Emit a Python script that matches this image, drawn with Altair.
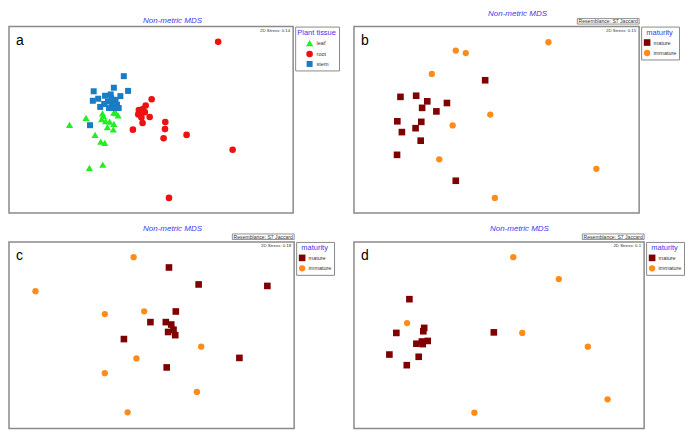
import altair as alt
import pandas as pd

FONT = "Liberation Sans"
TITLE_BLUE = "#3a3af0"

# ---------------- Panel a: plant tissue ----------------
a_leaf_x = [21.3, 27.1, 32.9, 36.9, 38.4, 32.6, 34.0, 35.4, 36.9, 34.6, 36.7, 30.3, 32.3, 33.7, 28.3, 33.0, 37.6, 33.2]
a_leaf_y = [47.3, 51.0, 53.5, 53.8, 52.4, 50.4, 49.3, 49.0, 47.8, 46.0, 44.8, 41.9, 38.3, 37.6, 24.2, 25.9, 53.6, 52.1]
a_root_x = [73.6, 50.2, 48.1, 45.7, 46.6, 45.5, 47.8, 49.5, 46.6, 47.0, 43.6, 55.0, 54.9, 54.4, 62.5, 78.7, 56.3, 47.1]
a_root_y = [91.8, 61.0, 57.7, 55.2, 53.8, 52.9, 54.1, 51.5, 51.2, 48.3, 44.7, 48.8, 45.0, 40.1, 41.9, 33.9, 8.1, 55.7]
a_stem_x = [40.4, 29.8, 36.9, 41.9, 31.4, 33.8, 35.8, 39.2, 29.5, 32.1, 34.8, 36.3, 37.5, 38.0, 35.2, 36.9, 38.6, 28.5, 33.5, 36.0]
a_stem_y = [73.4, 65.3, 67.2, 65.5, 61.3, 62.9, 63.6, 62.7, 60.2, 56.9, 59.8, 58.9, 60.7, 58.1, 56.3, 56.3, 56.3, 47.1, 58.5, 61.5]

# ---------------- Panel b: maturity ----------------
b_mature_x = [46.0, 16.3, 21.8, 25.7, 23.9, 32.6, 28.9, 15.2, 23.6, 21.6, 16.8, 23.4, 15.1, 35.7]
b_mature_y = [71.2, 62.3, 62.9, 59.9, 56.4, 59.0, 54.5, 49.2, 48.9, 45.5, 43.4, 38.8, 31.2, 17.3]
b_immature_x = [68.2, 35.7, 39.2, 27.3, 47.8, 34.6, 29.9, 85.0, 49.4]
b_immature_y = [91.6, 87.1, 85.8, 74.6, 52.8, 47.0, 28.8, 23.7, 8.1]

# ---------------- Panel c: maturity ----------------
c_mature_x = [56.1, 66.5, 90.6, 58.5, 49.6, 55.0, 56.9, 57.7, 55.8, 58.3, 40.3, 80.8, 55.3]
c_mature_y = [86.3, 77.2, 76.4, 62.7, 57.0, 57.0, 55.7, 52.9, 51.7, 50.0, 47.9, 37.8, 32.7]
c_immature_x = [43.7, 9.3, 33.6, 47.4, 67.4, 44.7, 33.6, 65.9, 41.6]
c_immature_y = [91.8, 73.6, 61.3, 62.8, 43.8, 37.5, 29.6, 19.5, 8.6]

# ---------------- Panel d: maturity ----------------
d_mature_x = [19.1, 14.6, 24.2, 23.9, 21.5, 23.4, 25.4, 23.7, 12.2, 22.3, 18.2, 48.2]
d_mature_y = [69.3, 51.2, 53.9, 52.1, 45.4, 46.6, 46.9, 45.2, 39.6, 38.4, 33.9, 51.5]
d_immature_x = [54.9, 70.6, 18.3, 58.0, 80.6, 87.4, 41.5]
d_immature_y = [91.8, 80.1, 56.5, 51.2, 43.8, 15.6, 8.4]

tissue_levels = ["leaf", "root", "stem"]
tissue_colors = ["#22ee22", "#ee1111", "#1a7cc2"]
tissue_shapes = ["triangle-up", "circle", "square"]
tissue_sizes = [52, 36, 38]
maturity_levels = ["mature", "immature"]
maturity_colors = ["#7f0000", "#ff8c1a"]
maturity_shapes = ["square", "circle"]
maturity_sizes = [44, 40]

panel_letters = ["a", "b", "c", "d"]
stress_labels = ["2D Stress: 0.14", "2D Stress: 0.15", "2D Stress: 0.18", "2D Stress: 0.1"]
resemblance_label = "Resemblance: S7 Jaccard"
chart_title = "Non-metric MDS"


def frame(groups):
    rows = []
    for name, xs, ys in groups:
        for x, y in zip(xs, ys):
            rows.append({"x": x, "y": y, "g": name})
    return pd.DataFrame(rows)


def one(**kw):
    return pd.DataFrame([kw])


def panel(df, levels, colors, shapes, sizes, legend_title, letter, stress,
          width, height, title_x, resemblance, legend_symbol):
    xs = alt.Scale(domain=[0, 100], nice=False, zero=False)
    ys = alt.Scale(domain=[0, 100], nice=False, zero=False)
    legend = alt.Legend(
        title=legend_title, orient="right", offset=2, padding=2.5,
        strokeColor="#8a8a8a", fillColor="white",
        titleColor=TITLE_BLUE, titleFont=FONT, titleFontSize=7.5,
        titleFontWeight="normal", titleAnchor="middle", titlePadding=2.5,
        labelFont=FONT, labelFontSize=5.5, labelColor="#333333",
        labelOffset=3, symbolSize=legend_symbol, rowPadding=3.5, symbolStrokeWidth=0,
    )
    pts = alt.Chart(df).mark_point(filled=True, opacity=1, strokeWidth=0).encode(
        x=alt.X("x:Q", scale=xs, axis=None),
        y=alt.Y("y:Q", scale=ys, axis=None),
        color=alt.Color("g:N", scale=alt.Scale(domain=levels, range=colors), legend=legend),
        shape=alt.Shape("g:N", scale=alt.Scale(domain=levels, range=shapes), legend=legend),
        size=alt.Size("g:N", scale=alt.Scale(domain=levels, range=sizes), legend=None),
    )
    letter_t = alt.Chart(one(t=letter)).mark_text(
        font=FONT, fontSize=14, align="left", baseline="alphabetic", color="black"
    ).encode(x=alt.value(7), y=alt.value(18.5), text="t:N")
    stress_t = alt.Chart(one(t=stress)).mark_text(
        font=FONT, fontSize=4.4, align="right", baseline="middle", color="#333333"
    ).encode(x=alt.value(width - 3), y=alt.value(4.5), text="t:N")
    layers = [pts, letter_t, stress_t]
    if resemblance:
        box = alt.Chart(one(t=1)).mark_rect(
            fill="white", stroke="#777777", strokeWidth=0.8
        ).encode(x=alt.value(width - 62), x2=alt.value(width), y=alt.value(-8), y2=alt.value(-2.5))
        rt = alt.Chart(one(t=resemblance_label)).mark_text(
            font=FONT, fontSize=5.1, align="center", baseline="middle", color="#333333"
        ).encode(x=alt.value(width - 31), y=alt.value(-5.2), text="t:N")
        title_y = -12.5
        layers += [box, rt]
    else:
        title_y = -5.5
    tt = alt.Chart(one(t=chart_title)).mark_text(
        font=FONT, fontSize=8, fontStyle="italic", align="center", baseline="middle",
        color=TITLE_BLUE
    ).encode(x=alt.value(title_x), y=alt.value(title_y), text="t:N")
    layers.append(tt)
    return alt.layer(*layers).properties(width=width, height=height)


H = 187
pa = panel(frame([("leaf", a_leaf_x, a_leaf_y), ("root", a_root_x, a_root_y), ("stem", a_stem_x, a_stem_y)]),
           tissue_levels, tissue_colors, tissue_shapes, tissue_sizes, "Plant tissue", panel_letters[0],
           stress_labels[0], 285, H, 164, False, 30)
pb = panel(frame([("mature", b_mature_x, b_mature_y), ("immature", b_immature_x, b_immature_y)]),
           maturity_levels, maturity_colors, maturity_shapes, maturity_sizes, "maturity", panel_letters[1],
           stress_labels[1], 286, H, 164, True, 36)
pc = panel(frame([("mature", c_mature_x, c_mature_y), ("immature", c_immature_x, c_immature_y)]),
           maturity_levels, maturity_colors, maturity_shapes, maturity_sizes, "maturity", panel_letters[2],
           stress_labels[2], 286, H, 164, True, 36)
pd_ = panel(frame([("mature", d_mature_x, d_mature_y), ("immature", d_immature_x, d_immature_y)]),
            maturity_levels, maturity_colors, maturity_shapes, maturity_sizes, "maturity", panel_letters[3],
            stress_labels[3], 291, H, 166, True, 36)

ind = dict(x="independent", y="independent", color="independent", shape="independent",
           size="independent")
chart = alt.concat(pa, pb, pc, pd_, columns=2, bounds="flush",
                   spacing={"row": 29, "column": 60}).resolve_scale(**ind).properties(
    padding=0
).configure_view(stroke="#8a8a8a", strokeWidth=1.5)

chart.save("out.html", embed_options={"renderer": "svg", "actions": False})
